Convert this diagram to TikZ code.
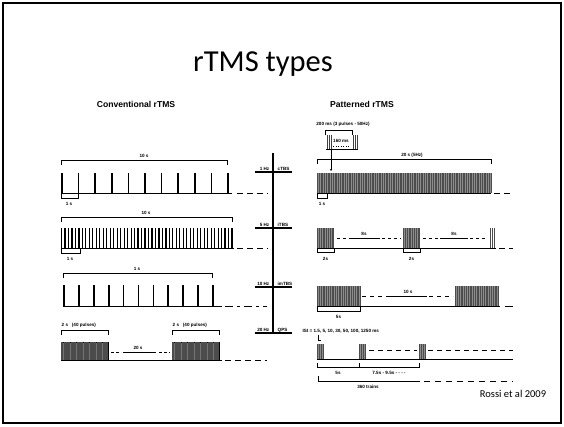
\documentclass[tikz,border=0pt]{standalone}
\usepackage{fontspec}
\setmainfont{Carlito}
\newfontfamily\figfont{Liberation Sans}
\usetikzlibrary{arrows.meta,positioning}

% bracket above a train (ends point down) and below a train (ends point up)
\newcommand{\overbrk}[3]{\draw[brk] (#1,#3+5) -- (#1,#3) -- (#2,#3) -- (#2,#3+5);}
\newcommand{\underbrk}[3]{\draw[brk] (#1,#3-4) -- (#1,#3) -- (#2,#3) -- (#2,#3-4);}

\begin{document}
\begin{tikzpicture}[
    x=1pt, y=-1pt,
    frame/.style={draw, line width=1.6pt},
    axis/.style={line width=1.3pt},
    pulse/.style={line width=1.7pt},
    burst/.style={line width=0.6pt, black!70},
    block/.style={fill=black!55},
    brk/.style={line width=0.6pt},
    base/.style={line width=0.8pt},
    gap/.style={line width=0.8pt, dash pattern=on 6pt off 4pt},
    lbl/.style={font=\figfont\bfseries\fontsize{4.6}{5}\selectfont, inner sep=0.5pt, anchor=base},
    head/.style={font=\figfont\bfseries\fontsize{8.6}{10}\selectfont, anchor=base},
]
\useasboundingbox (0,0) rectangle (564,426);
\draw[frame] (3,3) rectangle (561,423);

% === TITLES ===
\node[anchor=base] (title) at (263,71) {\fontsize{30.5}{34}\selectfont rTMS types};
\node[head] (conv) at (136,107) {Conventional rTMS};
\node[head] (patt) at (362,107) {Patterned rTMS};
\node[anchor=base] (ref) at (513,397) {\fontsize{10.5}{12}\selectfont Rossi et al 2009};

% === FREQUENCY AXIS ===
\draw[axis] (273,153) -- (273,334);
\foreach \y/\hz/\tbs in {172/1 Hz/cTBS, 228/5 Hz/iTBS, 287/10 Hz/imTBS, 333/20 Hz/QPS} {
    \draw[axis] (255,\y) -- (292,\y);
    \node[lbl, anchor=base east] at (270,\y-1.5) {\hz};
    \node[lbl, anchor=base west] at (277,\y-1.5) {\tbs};
}

% === CONVENTIONAL rTMS ===
% 1 Hz
\overbrk{61}{227}{160}
\node[lbl] (c1top) at (144,157) {10 s};
\foreach \i in {0,...,10} \draw[pulse] (62+\i*16.6,173) -- (62+\i*16.6,193);
\draw[base] (61,193) -- (232,193);
\draw[gap] (237,193) -- (268,193);
\underbrk{61}{78}{198}
\node[lbl] (c1bot) at (69,205) {1 s};

% 5 Hz
\overbrk{61}{232}{217}
\node[lbl] (c2top) at (146,214) {10 s};
\foreach \i in {0,...,49} \draw[line width=1.2pt] (61.5+\i*3.48,228) -- (61.5+\i*3.48,248);
\draw[base] (61,248) -- (234,248);
\draw[gap] (237,248) -- (268,248);
\underbrk{61}{80}{253}
\node[lbl] (c2bot) at (70,260) {1 s};

% 10 Hz
\overbrk{63}{212}{273}
\node[lbl] (c3top) at (137,270) {1 s};
\foreach \i in {0,...,10} \draw[pulse] (64+\i*14.9,285) -- (64+\i*14.9,306);
\draw[base] (63,306) -- (222,306);
\draw[line width=0.8pt, dash pattern=on 8pt off 4pt on 3pt off 4pt] (225,306) -- (267,306);

% 20 Hz
\overbrk{61}{108}{330}
\overbrk{172}{219}{330}
\node[lbl, anchor=base west] (c4a) at (61,326) {2 s \ \ (40 pulses)};
\node[lbl, anchor=base west] (c4b) at (172,326) {2 s \ \ (40 pulses)};
\draw[block] (61,342) rectangle (108,360);
\draw[block] (172,342) rectangle (219,360);
\foreach \i in {0,...,39} {
    \draw[burst] (61.5+\i*1.18,342) -- (61.5+\i*1.18,360);
    \draw[burst] (172.5+\i*1.18,342) -- (172.5+\i*1.18,360);
}
\draw[line width=0.7pt, dash pattern=on 3pt off 2pt] (111,352) -- (121,352);
\draw[line width=0.7pt] (123,352) -- (156,352);
\draw[line width=0.7pt, dash pattern=on 3pt off 2pt] (159,352) -- (170,352);
\node[lbl] (c4gap) at (138,349) {20 s};
\draw[base] (61,360) -- (222,360);
\draw[gap] (225,360) -- (267,360);

% === PATTERNED rTMS ===
% inset: one burst
\node[lbl] (burst) at (343,125) {200 ms (3 pulses - 50Hz)};
\overbrk{325}{352}{130}
\foreach \x in {327,329,331,353,355,357} \draw[line width=0.9pt, black!75] (\x,135) -- (\x,149);
\node[lbl] (isi) at (341,142) {160 ms};
\draw[line width=0.5pt, dotted] (333,146) -- (350,146);
\draw[base] (326,149) -- (358,149);
\coordinate (inset) at (331,149);
\coordinate (first) at (331,171);
\draw[line width=0.6pt, -{Stealth[length=2pt, width=2pt]}] (inset) -- (first);

% cTBS
\overbrk{317}{491}{159}
\node[lbl] (p1top) at (412,156) {20 s (5Hz)};
\fill[black!45] (317,173) rectangle (491,193);
\foreach \i in {0,...,99} \draw[burst] (317.5+\i*1.752,173) -- (317.5+\i*1.752,193);
\draw[base] (317,193) -- (491,193);
\draw[gap] (494,193) -- (513,193);
\underbrk{317}{327}{198}
\node[lbl] (p1bot) at (322,205) {1 s};

% iTBS
\foreach \s in {317,403} {
    \fill[black!45] (\s,228) rectangle (\s+17,248);
    \foreach \i in {0,...,9} \draw[burst] (\s+0.5+\i*1.8,228) -- (\s+0.5+\i*1.8,248);
}
\foreach \i in {0,...,2} \draw[burst] (490.5+\i*1.8,228) -- (490.5+\i*1.8,248);
\draw[line width=0.7pt, dash pattern=on 3pt off 3pt] (337,238) -- (352,238);
\draw[line width=0.7pt] (352,238) -- (380,238);
\draw[line width=0.7pt, dash pattern=on 3pt off 3pt] (382,238) -- (401,238);
\draw[line width=0.7pt, dash pattern=on 3pt off 3pt] (423,238) -- (440,238);
\draw[line width=0.7pt] (440,238) -- (468,238);
\draw[line width=0.7pt, dash pattern=on 3pt off 3pt] (470,238) -- (488,238);
\node[lbl] (p2gapa) at (364,235) {8s};
\node[lbl] (p2gapb) at (454,235) {8s};
\draw[base] (317,248) -- (496,248);
\draw[gap] (499,248) -- (513,248);
\underbrk{317}{334}{252}
\underbrk{403}{420}{252}
\node[lbl] (p2bota) at (325.5,260) {2s};
\node[lbl] (p2botb) at (411.5,260) {2s};

% imTBS
\foreach \s in {317,455} {
    \fill[black!45] (\s,286) rectangle (\s+44,306);
    \foreach \i in {0,...,24} \draw[burst] (\s+0.5+\i*1.79,286) -- (\s+0.5+\i*1.79,306);
}
\draw[line width=0.7pt, dash pattern=on 4pt off 4pt] (362,296) -- (390,296);
\draw[line width=0.7pt] (390,296) -- (427,296);
\draw[line width=0.7pt, dash pattern=on 4pt off 4pt] (429,296) -- (453,296);
\node[lbl] (p3gap) at (408,293) {10 s};
\draw[base] (317,306) -- (500,306);
\draw[base] (505,306) -- (513,306);
\underbrk{317}{360}{311}
\node[lbl] (p3bot) at (338.5,318) {5s};

% QPS
\node[lbl, anchor=base west] (p4isi) at (302,332) {ISI = 1.5, 5, 10, 30, 50, 100, 1250 ms};
\draw[line width=0.5pt] (318,335) -- (318,340) -- (321,340);
\foreach \s in {317,359,419} {
    \fill[black!45] (\s,344) rectangle (\s+7,359);
    \foreach \i in {0,...,3} \draw[burst] (\s+0.5+\i*2,344) -- (\s+0.5+\i*2,359);
}
\draw[line width=0.7pt, dash pattern=on 5pt off 4pt] (369,350) -- (417,350);
\draw[line width=0.7pt, dash pattern=on 5pt off 4pt] (428,350) -- (513,350);
\draw[base] (317,359) -- (513,359);
\draw[brk] (317,363) -- (317,367) -- (419,367) -- (419,363);
\draw[brk] (359,363) -- (359,367);
\node[lbl] (p4a) at (338,374) {5s};
\node[lbl] (p4b) at (389,374) {7.5s - 9.5s - - - -};
\draw[brk] (318,376) -- (318,381) -- (420,381);
\draw[line width=0.6pt, dash pattern=on 6pt off 5pt] (424,381) -- (513,381);
\node[lbl] (p4c) at (368,388) {360 trains};

\end{tikzpicture}
\end{document}
